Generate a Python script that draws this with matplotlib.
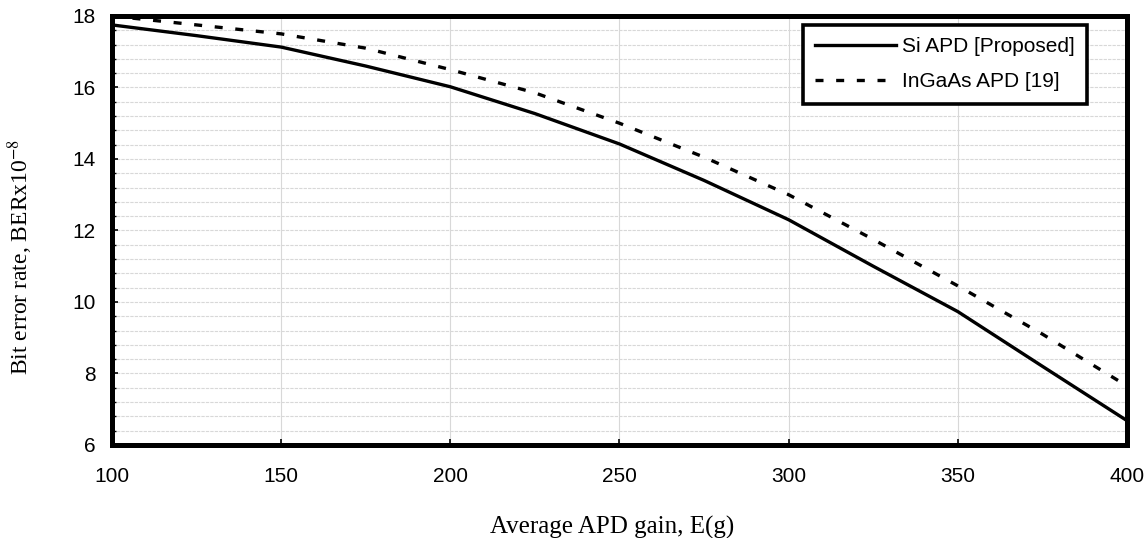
import matplotlib
matplotlib.use('Agg')
import matplotlib.pyplot as plt
from matplotlib.ticker import MultipleLocator

gain = [100, 125, 150, 175, 200, 225, 250, 275, 300, 325, 350, 375, 400]
si_apd = [17.75, 17.45, 17.13, 16.6, 16.02, 15.27, 14.42, 13.4, 12.3, 11.0, 9.73, 8.2, 6.68]
ingaas_apd = [18.0, 17.75, 17.5, 17.1, 16.5, 15.85, 15.0, 14.05, 13.0, 11.75, 10.45, 9.1, 7.65]

plt.rcParams['font.family'] = ['Liberation Sans', 'DejaVu Sans']
plt.rcParams['mathtext.fontset'] = 'stix'

fig = plt.figure(figsize=(11.47, 5.38), dpi=100)
ax = fig.add_axes([0.0976, 0.1729, 0.885, 0.7974])

ax.plot(gain, si_apd, color='black', lw=2.4, label='Si APD [Proposed]')
ax.plot(gain, ingaas_apd, color='black', lw=2.4, dashes=(2.4, 3.8), label='InGaAs APD [19]')

ax.set_xlim(100, 400)
ax.set_ylim(6, 18)
ax.xaxis.set_major_locator(MultipleLocator(50))
ax.yaxis.set_major_locator(MultipleLocator(2))
ax.yaxis.set_minor_locator(MultipleLocator(0.4))

ax.grid(which='major', axis='x', color='#d8d8d8', lw=0.8)
ax.grid(which='both', axis='y', color='#d8d8d8', lw=0.8, ls=(0, (3, 1)))
ax.set_axisbelow(True)

for s in ax.spines.values():
    s.set_linewidth(3.6)

ax.tick_params(which='major', direction='in', length=4, width=1.2, labelsize=15, pad=12)
ax.tick_params(which='minor', direction='in', length=3, width=1.0)
ax.tick_params(axis='x', pad=16)

ax.set_xlabel('Average APD gain, E(g)', family='Liberation Serif', fontsize=18)
ax.set_ylabel(r'Bit error rate, BERx10$^{-8}$', family='Liberation Serif', fontsize=17)
ax.xaxis.set_label_coords(0.4926, -0.166)
ax.yaxis.set_label_coords(-0.0759, 0.438)

leg = ax.legend(loc='upper right', bbox_to_anchor=(0.9606, 0.979), fontsize=15,
                fancybox=False, edgecolor='black', framealpha=1, handlelength=3.85,
                handletextpad=0.3, borderpad=0.6, labelspacing=0.75, borderaxespad=0)
leg.get_frame().set_linewidth(2.6)

plt.savefig('out.png', dpi=100)
